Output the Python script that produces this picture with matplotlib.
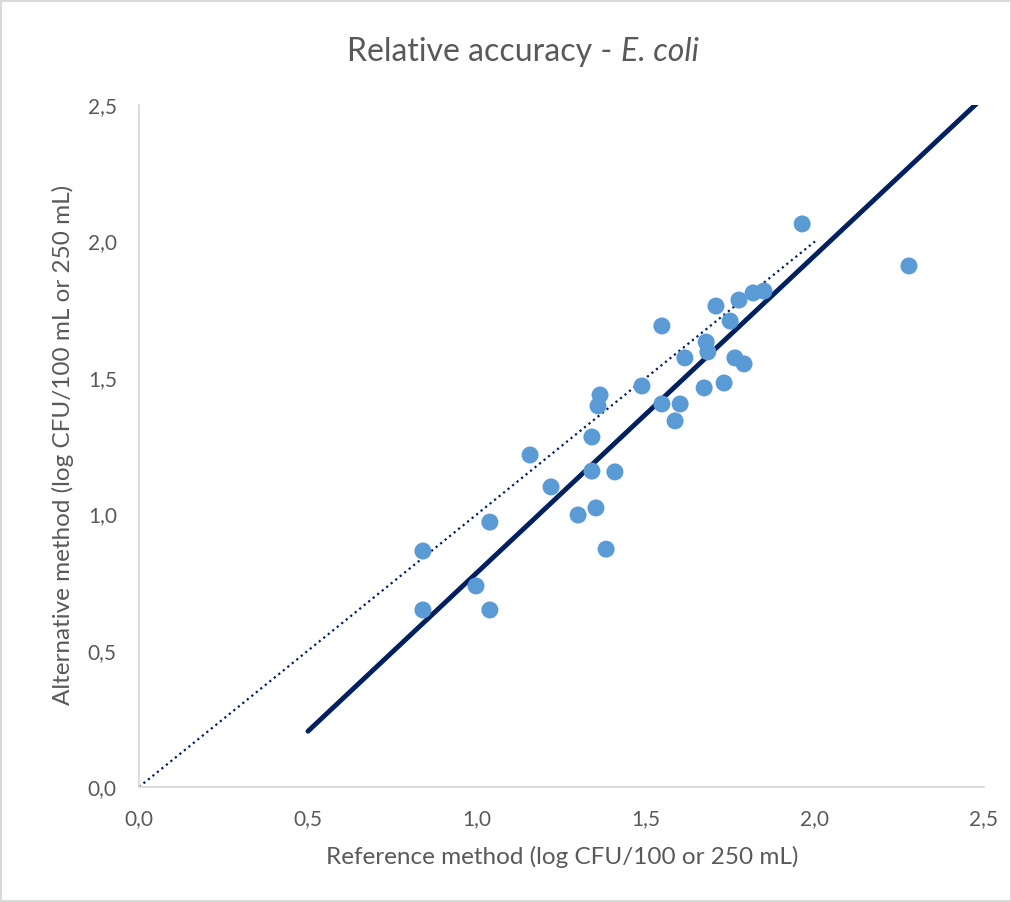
import matplotlib
matplotlib.use("Agg")
import matplotlib.pyplot as plt
import numpy as np
from matplotlib.ticker import FuncFormatter, MultipleLocator

# reference method vs alternative method (log CFU)
ref_x = [0.840, 0.840, 0.997, 1.038, 1.038, 1.157, 1.219, 1.299, 1.340, 1.340,
         1.352, 1.358, 1.364, 1.382, 1.408, 1.488, 1.547, 1.547, 1.586, 1.601,
         1.615, 1.672, 1.678, 1.683, 1.707, 1.731, 1.749, 1.763, 1.775, 1.790,
         1.817, 1.849, 1.962, 2.278]
alt_y = [0.865, 0.649, 0.737, 0.971, 0.649, 1.217, 1.100, 0.997, 1.283, 1.158,
         1.023, 1.397, 1.437, 0.872, 1.155, 1.470, 1.690, 1.404, 1.342, 1.404,
         1.573, 1.463, 1.631, 1.595, 1.763, 1.481, 1.708, 1.573, 1.785, 1.551,
         1.811, 1.818, 2.064, 1.910]

# fitted line and identity line
fit_slope = 1.163
fit_intercept = -0.377
fit_range = [0.5, 2.6]
ident_range = [0.0, 2.0]

font = ['Lato', 'DejaVu Sans']
grey = '#595959'
plt.rcParams['font.family'] = font

fig = plt.figure(figsize=(10.12, 9.02), dpi=100)
fig.patch.set_facecolor('white')
fig.patch.set_edgecolor('#D9D9D9')
fig.patch.set_linewidth(1.5)

ax = fig.add_axes([139 / 1012, 1 - 787 / 902, (984 - 139) / 1012, (787 - 105) / 902])

fx = np.array(fit_range)
ax.plot(fx, fit_slope * fx + fit_intercept, color='#002060', lw=3.5,
        solid_capstyle='round', zorder=2)
ax.plot(ident_range, ident_range, color='#002060', lw=1.6, ls=(0, (1, 1.6)), zorder=2)
ax.scatter(ref_x, alt_y, s=150, color='#5B9BD5', edgecolors='none', zorder=3)

ax.set_xlim(0, 2.5)
ax.set_ylim(0, 2.5)
ax.xaxis.set_major_locator(MultipleLocator(0.5))
ax.yaxis.set_major_locator(MultipleLocator(0.5))
fmt = FuncFormatter(lambda v, p: '{:.1f}'.format(v).replace('.', ','))
ax.xaxis.set_major_formatter(fmt)
ax.yaxis.set_major_formatter(fmt)
ax.tick_params(length=0, labelsize=15, labelcolor=grey, pad=16)

for s in ['top', 'right']:
    ax.spines[s].set_visible(False)
for s in ['left', 'bottom']:
    ax.spines[s].set_color('#D9D9D9')
    ax.spines[s].set_linewidth(1.3)

fig.text(562 / 1012, 1 - 857 / 902, 'Reference method (log CFU/100 or 250 mL)',
         ha='center', va='center', fontsize=17.5, color=grey)
fig.text(63 / 1012, 1 - 445 / 902, 'Alternative method (log CFU/100 mL or 250 mL)',
         ha='center', va='center', rotation=90, fontsize=17.5, color=grey)

fig.text(612 / 1012, 1 - 52 / 902, 'Relative accuracy -', ha='right', va='center',
         fontsize=23, color=grey)
fig.text(621 / 1012, 1 - 52 / 902, 'E. coli', ha='left', va='center',
         fontsize=23, color=grey, style='italic')

plt.savefig('out.png', dpi=100, facecolor=fig.get_facecolor(), edgecolor=fig.get_edgecolor())
